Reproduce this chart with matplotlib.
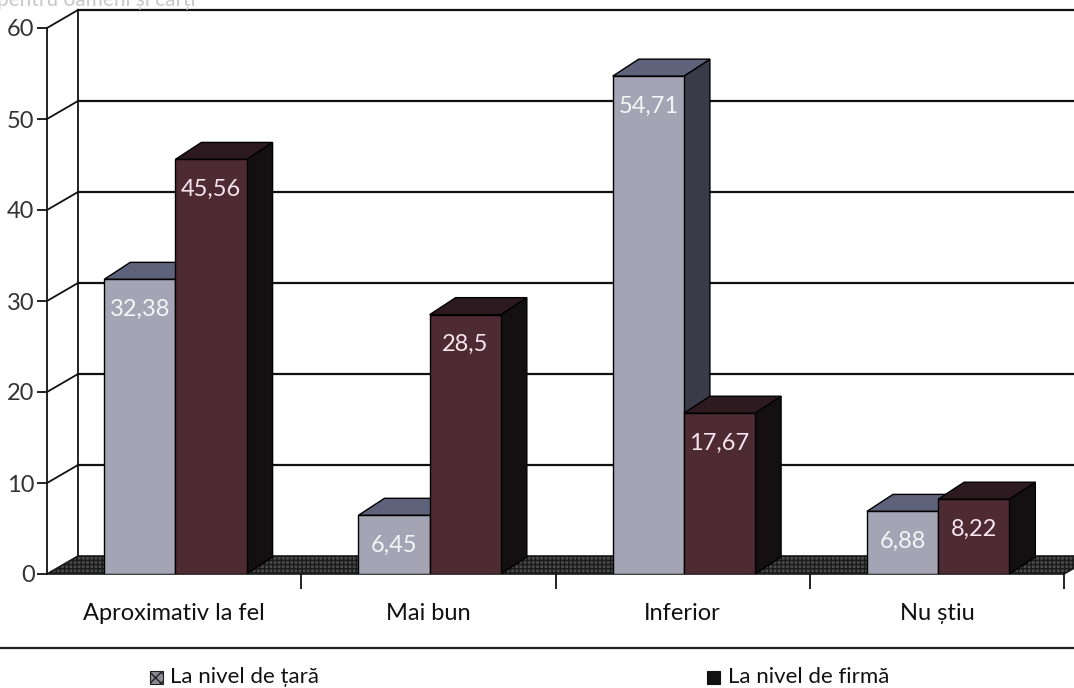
import numpy as np
import matplotlib.pyplot as plt
from matplotlib.patches import Polygon, Rectangle
from matplotlib.lines import Line2D

plt.rcParams['font.family'] = ['Lato', 'DejaVu Sans']
plt.rcParams['hatch.color'] = '#8a8a8a'

categories = ['Aproximativ la fel', 'Mai bun', 'Inferior', 'Nu știu']
tara = [32.38, 6.45, 54.71, 6.88]
firma = [45.56, 28.5, 17.67, 8.22]
series_names = ['La nivel de țară', 'La nivel de firmă']
yticks = [0, 10, 20, 30, 40, 50, 60]

W, H = 1074, 688
fig = plt.figure(figsize=(W / 100, H / 100), dpi=100)
ax = fig.add_axes([47 / W, 114 / H, (1064 - 47) / W, (574 - 28) / H])
ax.set_xlim(-0.5, 3.5)
ax.set_ylim(0, 60)

# pixel sizes -> data units
px_x = 4 / (1064 - 47)
px_y = 60 / (574 - 28)
wall_dx, wall_dy = 31 * px_x, 18 * px_y
bar_dx, bar_dy = 26 * px_x, 17 * px_y
bw = 0.28

# floor
floor = Polygon([(-0.5, 0), (3.5, 0), (3.5 + wall_dx, wall_dy), (-0.5 + wall_dx, wall_dy)],
                closed=True, facecolor='#4a4a4a', edgecolor='#1a1a1a', hatch='++++',
                lw=1.2, zorder=1, clip_on=False)
ax.add_patch(floor)

# back wall and side wall grid
for v in yticks[1:]:
    ax.plot([-0.5 + wall_dx, 4.0], [v + wall_dy, v + wall_dy], color='#111', lw=1.6,
            zorder=0.5, clip_on=False)
    ax.plot([-0.5, -0.5 + wall_dx], [v, v + wall_dy], color='#111', lw=1.3,
            zorder=0.5, clip_on=False)
ax.plot([-0.5 + wall_dx, -0.5 + wall_dx], [wall_dy, 60 + wall_dy], color='#111', lw=1.3,
        zorder=0.5, clip_on=False)


def bar3d(x0, h, front, top, side, txtcolor):
    x1 = x0 + bw
    ax.add_patch(Polygon([(x1, 0), (x1, h), (x1 + bar_dx, h + bar_dy), (x1 + bar_dx, bar_dy)],
                         closed=True, facecolor=side, edgecolor='#000', lw=1, zorder=3))
    ax.add_patch(Polygon([(x0, h), (x1, h), (x1 + bar_dx, h + bar_dy), (x0 + bar_dx, h + bar_dy)],
                         closed=True, facecolor=top, edgecolor='#000', lw=1, zorder=3))
    ax.bar(x0, h, width=bw, align='edge', color=front, edgecolor='#000', lw=1, zorder=3)
    ax.annotate(f'{h:g}'.replace('.', ','), (x0 + bw / 2, h), xytext=(0, -30),
                textcoords='offset pixels', ha='center', va='center',
                fontsize=17, color=txtcolor, zorder=4)


x = np.arange(len(categories))
for i in x:
    bar3d(i - 0.275, tara[i], '#a4a4b4', '#5e627a', '#3a3a48', '#f5f5f8')
    bar3d(i + 0.005, firma[i], '#4e2a33', '#2c1a20', '#141012', '#f6e4ee')

for s in ['top', 'right', 'bottom']:
    ax.spines[s].set_visible(False)
ax.spines['left'].set_color('#111')
ax.spines['left'].set_linewidth(1.3)
ax.set_yticks(yticks)
ax.tick_params(axis='y', length=7, width=1.3, color='#111', labelsize=17,
               labelcolor='#333', pad=2)
ax.set_xticks(x, categories)
ax.tick_params(axis='x', which='major', length=0, pad=21, labelsize=17, labelcolor='#111')
ax.set_xticks([0.5, 1.5, 2.5, 3.5], minor=True)
ax.tick_params(axis='x', which='minor', length=11, width=1.3, color='#111')

# separator above legend
fig.add_artist(Line2D([0, 1], [(H - 648) / H] * 2, color='#222', lw=1.6))

# legend
fig.add_artist(Rectangle((150 / W, (H - 684) / H), 13 / W, 13 / H, facecolor='#8a8a96',
                         edgecolor='#222', lw=0.8, hatch='xxx'))
fig.text(170 / W, (H - 677) / H, series_names[0], fontsize=16, va='center', color='#111')
fig.add_artist(Rectangle((707 / W, (H - 684) / H), 13 / W, 13 / H, facecolor='#111',
                         edgecolor='#111', lw=0.8))
fig.text(728 / W, (H - 677) / H, series_names[1], fontsize=16, va='center', color='#111')

fig.text(-3 / W, (H - 6) / H, 'pentru oameni și cărți', fontsize=15, va='baseline',
         color='#c8c8c8')

fig.savefig('out.png', dpi=100, facecolor='white')
